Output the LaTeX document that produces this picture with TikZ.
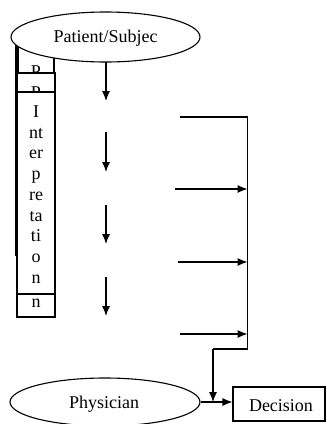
\documentclass[tikz,border=0pt]{standalone}
\usepackage{fontspec}
\setmainfont{Liberation Serif}
\usetikzlibrary{arrows.meta,shapes.geometric}
\begin{document}
\begin{tikzpicture}[x=1pt,y=-1pt,
  ln/.style={line width=1.1pt,black},
  arr/.style={ln,-{Latex[length=10pt,width=8pt]}},
  colbox/.style={draw,line width=1.1pt,fill=white},
  oval/.style={draw,ellipse,line width=1.1pt,fill=white,inner sep=0pt},
  txt/.style={font=\fontsize{18}{20}\selectfont,inner sep=0pt,anchor=base}]
\useasboundingbox (0,0) rectangle (326,424);
% left line
\coordinate (lt) at (16,44);
\coordinate (lb) at (16,256);
\draw[line width=1.6pt] (lt) -- (lb);
% column boxes
\draw[colbox] (18,45) rectangle (54,73);
\node[txt] (p1) at (36,77) {P};
\draw[colbox] (17,73) rectangle (55,92);
\node[txt] (p2) at (36,98) {P};
\draw[colbox] (17,92) rectangle (55,294);
\foreach \t/\y [count=\i] in {I/117,nt/138,er/158,p/179,re/200,ta/221,ti/241,o/262,n/283}
  \node[txt] (c\i) at (36,\y) {\t};
\draw[colbox] (17,294) rectangle (55,317);
\node[txt] (n4) at (36,307) {n};
% top ellipse
\node[oval,minimum width=189pt,minimum height=50pt] (pat) at (105.5,37) {};
\node[txt] (pattxt) at (105.5,42) {Patient/Subjec};
% down arrows
\coordinate (d1a) at (106,62);  \coordinate (d1b) at (106,101);
\coordinate (d2a) at (106,132); \coordinate (d2b) at (106,172);
\coordinate (d3a) at (106,205); \coordinate (d3b) at (106,244);
\coordinate (d4a) at (106,277); \coordinate (d4b) at (106,316);
\draw[arr] (d1a) -- (d1b);
\draw[arr] (d2a) -- (d2b);
\draw[arr] (d3a) -- (d3b);
\draw[arr] (d4a) -- (d4b);
% right bus
\coordinate (h0) at (180,117);
\coordinate (rt) at (247.5,117);
\coordinate (rb) at (247.5,349);
\coordinate (h1) at (175,189); \coordinate (e1) at (247.5,189);
\coordinate (h2) at (178,262); \coordinate (e2) at (247.5,262);
\coordinate (h3) at (180,334); \coordinate (e3) at (247.5,334);
\coordinate (bend) at (213,349);
\coordinate (tip) at (213,402);
\draw[ln] (h0) -- (rt) -- (rb) -- (bend);
\draw[arr] (bend) -- (tip);
\draw[arr] (h1) -- (e1);
\draw[arr] (h2) -- (e2);
\draw[arr] (h3) -- (e3);
% bottom
\node[oval,minimum width=190pt,minimum height=48pt] (phy) at (105,402) {};
\node[txt] (phytxt) at (104,408) {Physician};
\node[draw,line width=1.1pt,minimum width=92pt,minimum height=34pt,inner sep=0pt] (dec) at (279,404) {};
\node[txt] (dectxt) at (281,411) {Decision};
\draw[arr] (phy.east) -- (dec.west |- phy.east);
\end{tikzpicture}
\end{document}
